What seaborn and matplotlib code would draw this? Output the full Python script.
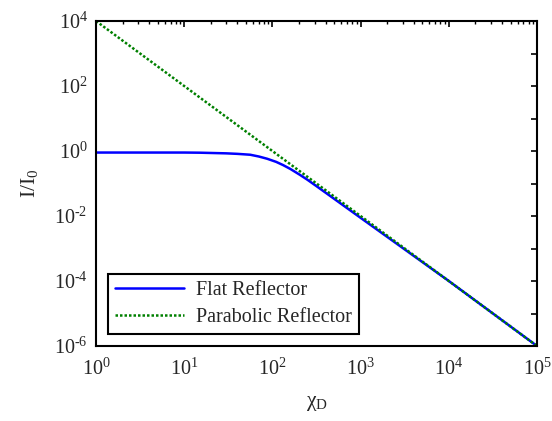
import numpy as np
import pandas as pd
import matplotlib
matplotlib.use("Agg")
import matplotlib.pyplot as plt
import seaborn as sns
from matplotlib.ticker import LogLocator, FixedLocator, FuncFormatter, NullLocator

# Data
flat_x = [1, 10, 15, 30, 40, 56, 70, 87, 110, 132, 160, 205, 250, 322, 500, 1000, 10000, 100000]
flat_y = [0.9, 0.9, 0.89, 0.85, 0.82, 0.77, 0.68, 0.58, 0.465, 0.37, 0.28, 0.185, 0.13, 0.08,
          0.034, 0.0088, 0.0001, 1e-6]
para_x = [1, 100000]
para_y = [1e4, 1e-6]
series_names = ["Flat Reflector", "Parabolic Reflector"]

sns.set_theme(style="white")
plt.rcParams['font.family'] = ['Liberation Serif', 'DejaVu Serif']
plt.rcParams['mathtext.fontset'] = 'custom'
plt.rcParams['mathtext.rm'] = 'Liberation Serif'
plt.rcParams['mathtext.it'] = 'Liberation Serif:italic'

df = pd.concat([
    pd.DataFrame({"x": flat_x, "y": flat_y, "s": series_names[0]}),
    pd.DataFrame({"x": para_x, "y": para_y, "s": series_names[1]}),
])

fig = plt.figure(figsize=(5.52, 4.21), dpi=100)
ax = fig.add_axes([0.174, 0.178, 0.799, 0.772])

sns.lineplot(data=df[df.s == series_names[0]], x="x", y="y", ax=ax, color="#0000ff",
             lw=1.8, label=series_names[0])
sns.lineplot(data=df[df.s == series_names[1]], x="x", y="y", ax=ax, color="#008000",
             lw=1.8, linestyle=(0, (1, 0.8)), label=series_names[1])

ax.set_xscale("log")
ax.set_yscale("log")
ax.set_xlim(1, 1e5)
ax.set_ylim(1e-6, 1e4)

ax.xaxis.set_major_locator(FixedLocator([10.0**k for k in range(0, 6)]))
ax.xaxis.set_minor_locator(LogLocator(base=10, subs=np.arange(2, 10), numticks=20))
ax.yaxis.set_major_locator(FixedLocator([10.0**k for k in range(-6, 5)]))
ax.yaxis.set_minor_locator(NullLocator())

def lab(k):
    s = str(k).replace("-", "\u2010")
    return r"$\mathregular{10^{%s}}$" % s
def fmt(v, pos):
    return lab(int(round(np.log10(v))))
def yfmt(v, pos):
    k = int(round(np.log10(v)))
    return lab(k) if k % 2 == 0 else ""
ax.xaxis.set_major_formatter(FuncFormatter(fmt))
ax.yaxis.set_major_formatter(FuncFormatter(yfmt))

ax.tick_params(which="both", direction="in", top=True, right=True, labelsize=14.5, color="black")
ax.tick_params(axis="x", pad=9)
ax.tick_params(axis="y", pad=6)
ax.tick_params(which="major", length=4, width=1.2)
ax.tick_params(which="minor", length=2.5, width=1.0)
for sp in ax.spines.values():
    sp.set_color("black")
    sp.set_linewidth(1.5)

ax.set_xlabel("\u03c7$_\\mathregular{D}$", fontsize=15.5, labelpad=10)
ax.set_ylabel(r"I/I$_\mathregular{0}$", fontsize=15.5, labelpad=10)

leg = ax.legend(loc="lower left", fontsize=14.5, frameon=True, fancybox=False,
                edgecolor="black", framealpha=1, borderaxespad=0.6, handlelength=3.4,
                handletextpad=0.6, labelspacing=0.4, borderpad=0.35,
                bbox_to_anchor=(0.0, 0.0))
leg.get_frame().set_linewidth(1.5)

fig.savefig("out.png", dpi=100)
